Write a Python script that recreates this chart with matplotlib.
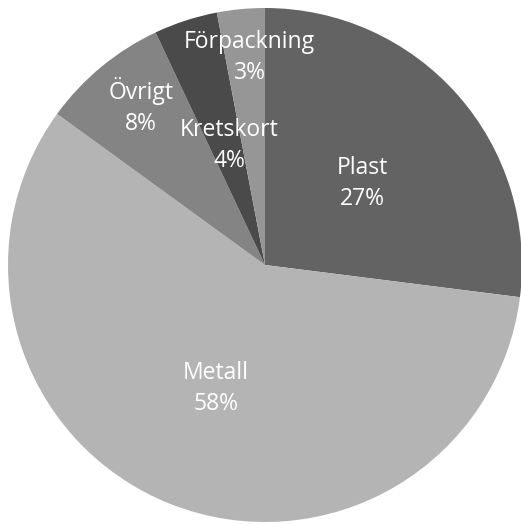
import matplotlib.pyplot as plt

labels = ['Plast', 'Metall', 'Övrigt', 'Kretskort', 'Förpackning']
values = [27, 58, 8, 4, 3]
colors = ['#636363', '#b4b4b4', '#848484', '#4a4a4a', '#969696']
# label centres in axes units (radius = 1)
label_xy = [(0.377, 0.318), (-0.191, -0.482), (-0.482, 0.618), (-0.140, 0.464), (-0.060, 0.808)]

fig = plt.figure(figsize=(5.21, 5.24), dpi=100)
ax = fig.add_axes([8 / 521, 2 / 524, 514 / 521, 514 / 524])
wedges, _ = ax.pie(values, colors=colors, startangle=90, counterclock=False,
                   radius=1.0, wedgeprops=dict(linewidth=0))
ax.set_xlim(-1, 1)
ax.set_ylim(-1, 1)
ax.set_aspect('equal')

for lab, v, (x, y) in zip(labels, values, label_xy):
    ax.text(x, y, f'{lab}\n{v}%', ha='center', va='center',
            color='white', fontsize=16.5, family='Open Sans', linespacing=1.4)

fig.savefig('out.png', dpi=100)
